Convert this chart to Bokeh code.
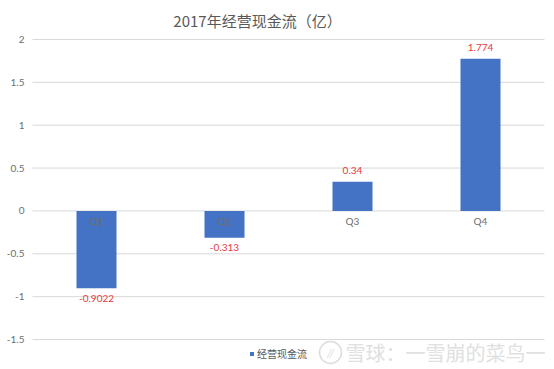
from bokeh.plotting import figure
from bokeh.models import Range1d, ColumnDataSource, Legend, LegendItem
from bokeh.core.properties import value
from bokeh.embed import file_html
from bokeh.resources import INLINE

# ---- data ----
quarters = ["Q1", "Q2", "Q3", "Q4"]
cash_flow = [-0.9022, -0.313, 0.34, 1.774]
value_labels = ["-0.9022", "-0.313", "0.34", "1.774"]
y_ticks = [-1.5, -1, -0.5, 0, 0.5, 1, 1.5, 2]
y_tick_labels = ["-1.5", "-1", "-0.5", "0", "0.5", "1", "1.5", "2"]
title_text = "2017年经营现金流（亿）"
series_name = "经营现金流"
watermark = "雪球：一雪崩的菜鸟一"

NUM_FONT = "Lato"
CJK_FONT = "Noto Sans CJK SC"

# ---- layout constants (pixels, page coordinates) ----
W, H = 554, 369
OX, OY = 0, 0                      # canvas offset on the page
CAT_PX = 128.0                     # width of one category
PX = 300.0 / (max(y_ticks) - min(y_ticks))   # pixels per unit
FRAME_L, FRAME_T = 32, 39          # page x of category area start, page y of top tick

n = len(quarters)
xs = [i + 0.5 for i in range(n)]


def ux(px):   # page x -> data x
    return (px - FRAME_L) / CAT_PX


def uy(py):   # page y -> data y
    return max(y_ticks) - (py - FRAME_T) / PX


p = figure(width=W, height=H,
           x_range=Range1d(ux(OX), ux(OX + W)), y_range=Range1d(uy(OY + H), uy(OY)),
           output_backend="svg", toolbar_location=None, tools="",
           min_border_left=0, min_border_right=0, min_border_top=0, min_border_bottom=0)
p.title.visible = False
p.outline_line_color = None
p.background_fill_color = "white"
p.border_fill_color = "white"
p.axis.visible = False
p.grid.visible = False

# horizontal gridlines across the category area
p.segment(x0=[0] * len(y_ticks), x1=[n] * len(y_ticks), y0=y_ticks, y1=y_ticks,
          line_color="#d9d9d9", line_width=1)

# y tick labels
p.text(x=[ux(24)] * len(y_ticks), y=y_ticks, text=y_tick_labels,
       text_align="right", text_baseline="middle",
       text_font=value(NUM_FONT), text_font_size="10px", text_color="#6e6e6e")

src = ColumnDataSource(dict(x=xs, v=cash_flow, lab=value_labels))
bars = p.vbar(x="x", top="v", bottom=0, width=40 / CAT_PX, source=src,
              fill_color="#4472C4", line_color=None)

pos = [i for i, v in enumerate(cash_flow) if v >= 0]
neg = [i for i, v in enumerate(cash_flow) if v < 0]
for idx, off in ((pos, -11), (neg, 10)):
    s = ColumnDataSource(dict(x=[xs[i] for i in idx], v=[cash_flow[i] for i in idx],
                              lab=[value_labels[i] for i in idx]))
    p.text(x="x", y="v", text="lab", source=s, y_offset=off,
           text_align="center", text_baseline="middle",
           text_font=value(NUM_FONT), text_font_size="10px", text_color="#e8393d")

# category labels at the zero line
cat_src = ColumnDataSource(dict(x=xs, y=[0] * n, q=quarters))
p.text(x="x", y="y", text="q", source=cat_src, y_offset=10,
       text_align="center", text_baseline="middle",
       text_font=value(NUM_FONT), text_font_size="10px", text_color="#6e6e6e")

# title
p.text(x=[ux(257)], y=[uy(20)], text=[title_text],
       text_align="center", text_baseline="middle",
       text_font=value(CJK_FONT), text_font_size="15px", text_color="#595959")

# watermark
p.scatter(x=[ux(330)], y=[uy(352)], size=22, marker="circle",
          fill_color=None, line_color="#dddddd", line_width=1.5)
p.text(x=[ux(330)], y=[uy(352)], text=["//"], text_align="center", text_baseline="middle",
       text_font=value(NUM_FONT), text_font_size="12px", text_font_style="italic",
       text_color="#dddddd")
p.text(x=[ux(345)], y=[uy(352)], text=[watermark],
       text_align="left", text_baseline="middle",
       text_font=value(CJK_FONT), text_font_size="20px", text_color="#e0e0e0")

# legend (below the category area)
legend = Legend(items=[LegendItem(label=series_name, renderers=[bars])],
                location=(249 - OX, OY + H - 361), orientation="horizontal",
                glyph_width=5, glyph_height=5, label_height=12, label_standoff=3,
                padding=0, margin=0, border_line_color=None, background_fill_alpha=0,
                label_text_font=CJK_FONT, label_text_font_size="10px", label_text_color="#595959")
p.add_layout(legend, "center")

open("out.html", "w").write(file_html(p, INLINE))
